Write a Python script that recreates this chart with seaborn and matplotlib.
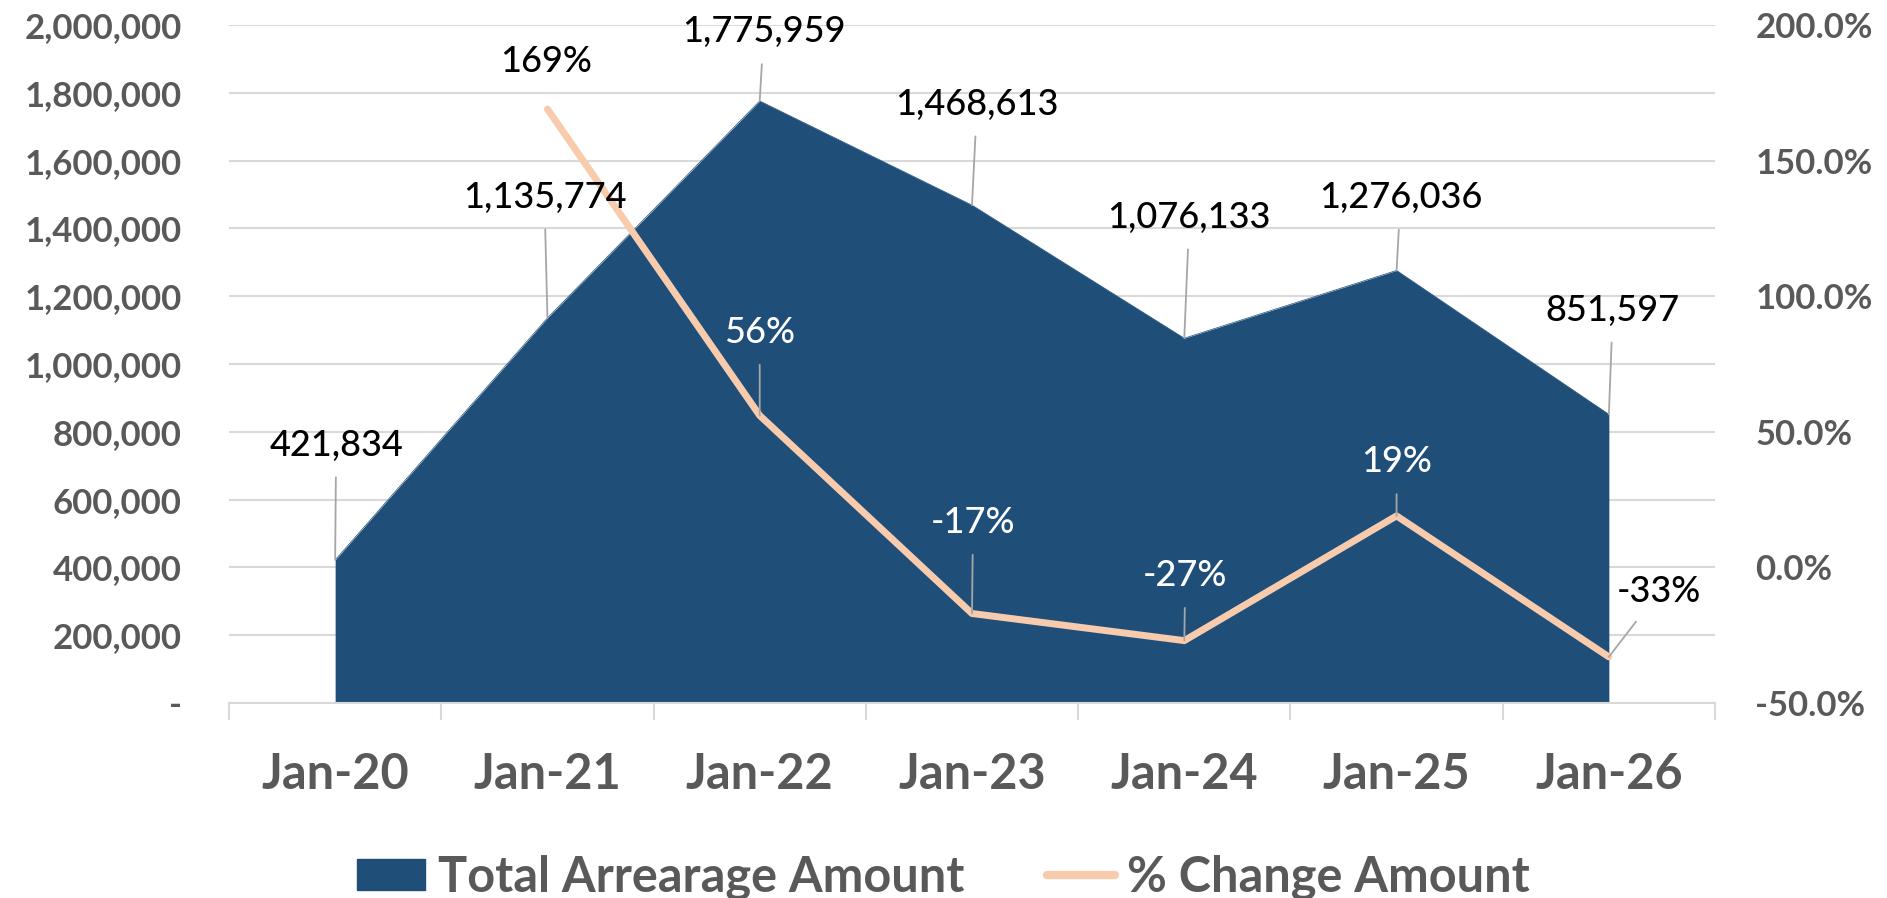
import matplotlib
matplotlib.use("Agg")
import matplotlib.pyplot as plt
import matplotlib.ticker as mticker
from matplotlib.patches import Patch
from matplotlib.lines import Line2D
import numpy as np
import pandas as pd
import seaborn as sns

# ---------------- data ----------------
months = ["Jan-20", "Jan-21", "Jan-22", "Jan-23", "Jan-24", "Jan-25", "Jan-26"]
arrearage = [421834, 1135774, 1775959, 1468613, 1076133, 1276036, 851597]
pct_change = [np.nan, 169, 56, -17, -27, 19, -33]
left_ticks = [0, 200000, 400000, 600000, 800000, 1000000, 1200000,
              1400000, 1600000, 1800000, 2000000]
right_ticks = [-50, 0, 50, 100, 150, 200]
series_names = ["Total Arrearage Amount", "% Change Amount"]

# ---------------- layout / style ----------------
value_offsets = [(1, 115), (-3, 121), (4, 69), (5, 101), (5, 121), (4, 73), (4, 104)]
pct_offsets = [None, (-1, 48), (0, 83), (1, 91), (1, 65), (0, 54), (50, 65)]
pct_colors = [None, "black", "white", "white", "white", "white", "black"]
pct_leader = [False, False, True, True, True, True, True]

AREA = "#1F4E79"
PEACH = "#F8CBAD"
GRID = "#D9D9D9"
TICK = "#595959"
LEADER = "#A6A6A6"

sns.set_theme(style="white")
plt.rcParams["font.family"] = ["Lato", "DejaVu Sans"]

W, H, DPI = 1887, 898, 100
fig = plt.figure(figsize=(W / DPI, H / DPI), dpi=DPI)
ax = fig.add_axes([229 / W, 1 - 703 / H, (1715 - 229) / W, (703 - 25) / H])
ax2 = ax.twinx()

df = pd.DataFrame({"month": months, "pos": np.arange(len(months)),
                   "arrearage": arrearage, "pct": pct_change})

# area series
ax.fill_between(df["pos"], df["arrearage"], 0, color=AREA, lw=0, zorder=2)
sns.lineplot(data=df, x="pos", y="arrearage", ax=ax, color=AREA, lw=0.5, zorder=2)

# % change line
dfl = df.dropna(subset=["pct"])
sns.lineplot(data=dfl, x="pos", y="pct", ax=ax2, color=PEACH, lw=5,
             solid_capstyle="round", solid_joinstyle="round", zorder=3)

# axes limits / ticks
ax.set_xlim(-0.5, len(months) - 0.5)
ax.set_ylim(0, 2000000)
ax2.set_ylim(-50, 200)
ax.set_yticks(left_ticks)
ax2.set_yticks(right_ticks)
ax.yaxis.set_major_formatter(mticker.FuncFormatter(
    lambda v, p: "-" if v == 0 else f"{int(v):,}"))
ax2.yaxis.set_major_formatter(mticker.FuncFormatter(lambda v, p: f"{v:.1f}%"))
ax.set_xticks(df["pos"])
ax.set_xticklabels(months)
ax.set_xticks(np.arange(-0.5, len(months)), minor=True)

ax.set_xlabel("")
ax.set_ylabel("")
ax2.set_xlabel("")
ax2.set_ylabel("")

ax.tick_params(axis="y", length=0, pad=34, labelsize=25, labelcolor=TICK)
ax2.tick_params(axis="y", length=0, pad=29, labelsize=25, labelcolor=TICK)
ax.tick_params(axis="x", which="major", length=0, pad=35, labelsize=35, labelcolor=TICK)
ax.tick_params(axis="x", which="minor", length=12, width=1.5, color=GRID, bottom=True)
for lab in ax.get_yticklabels() + ax2.get_yticklabels() + ax.get_xticklabels():
    lab.set_fontweight("bold")

ax.grid(axis="y", color=GRID, lw=1.5, zorder=0)
ax.grid(axis="x", visible=False)
ax2.grid(False)
ax.set_axisbelow(True)
for a in (ax, ax2):
    for s in ("left", "right", "top", "bottom"):
        a.spines[s].set_visible(False)
ax.spines["bottom"].set_visible(True)
ax.spines["bottom"].set_color(GRID)
ax.spines["bottom"].set_linewidth(1.5)

LABEL_KW = dict(textcoords="offset pixels", ha="center", va="center",
                fontsize=26, fontweight="medium", zorder=5)

# value labels
for i, v in enumerate(arrearage):
    dx, dy = value_offsets[i]
    ax2.annotate(f"{v:,}", xy=(i, v / 2000000 * 250 - 50), xytext=(dx, dy),
                 color="black",
                 arrowprops=dict(arrowstyle="-", color=LEADER, lw=1.3,
                                 shrinkA=9, shrinkB=0), **LABEL_KW)

# pct labels
for i, p in enumerate(pct_change):
    if pct_offsets[i] is None:
        continue
    dx, dy = pct_offsets[i]
    ap = dict(arrowstyle="-", color=LEADER, lw=1.3, shrinkA=9, shrinkB=0) \
        if pct_leader[i] else None
    ax2.annotate(f"{int(p)}%", xy=(i, p), xytext=(dx, dy),
                 color=pct_colors[i], arrowprops=ap, **LABEL_KW)

# legend
handles = [Patch(facecolor=AREA, edgecolor=AREA),
           Line2D([0], [0], color=PEACH, lw=6, solid_capstyle="round")]
leg = fig.legend(handles, series_names, loc="center",
                 bbox_to_anchor=(0.5, 21 / H), ncol=2, frameon=False,
                 fontsize=35, handlelength=1.4, handleheight=0.6,
                 handletextpad=0.25, columnspacing=1.7)
for t in leg.get_texts():
    t.set_color(TICK)
    t.set_fontweight("bold")

fig.savefig("out.png", dpi=DPI)
